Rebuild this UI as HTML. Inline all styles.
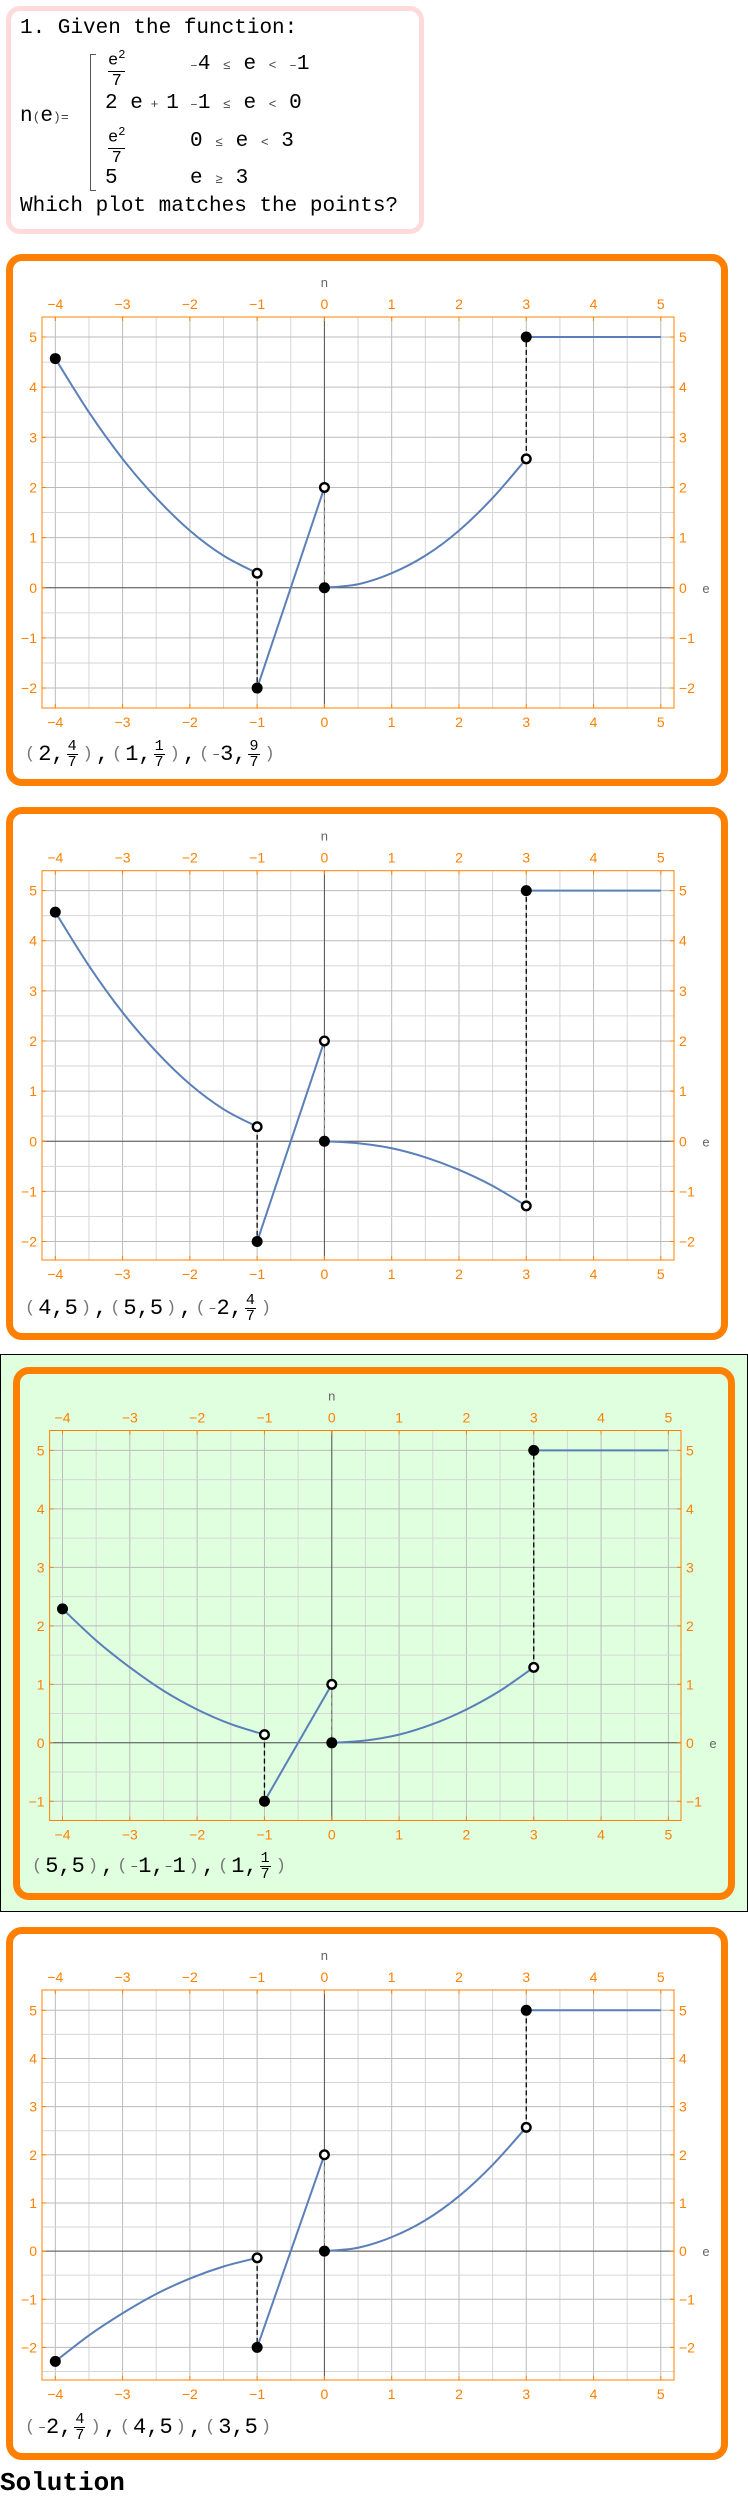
<!DOCTYPE html>
<html><head><meta charset="utf-8"><style>
body{margin:0;width:748px;height:2501px;position:relative;background:#fff;font-family:"Liberation Sans",sans-serif;overflow:hidden}
.abs{position:absolute}
.mono{font-family:"Liberation Mono",monospace;font-size:21px;color:#000;white-space:nowrap}
.obox{position:absolute;box-sizing:border-box;border:7px solid #ff8000;border-radius:16px;background:#fff}
.pts{position:absolute;font-family:"Liberation Mono",monospace;font-size:22px;white-space:nowrap;display:flex;align-items:center}
.pts .p{color:#777;font-size:17px;margin:0 3px}
.fr{display:inline-flex;flex-direction:column;align-items:center;font-size:15px;line-height:15px;margin:0 2px}
.fr .n{border-bottom:1px solid #000;padding:0 1px}
.sfr{position:absolute;font-family:'Liberation Mono',monospace;font-size:17px;text-align:center;line-height:19px}
.sm{font-size:13px;color:#444}
</style></head><body>
<div class="abs" style="left:6px;top:6px;width:418px;height:228px;box-sizing:border-box;border:5px solid #ffdada;border-radius:14px;"></div>
<div class="abs mono" style="left:20px;top:17px">1. Given the function:</div>
<div class="abs mono" style="left:20px;top:105px">n<span class="sm">(</span>e<span class="sm">)</span><span class="sm">=</span></div>
<div class="abs" style="left:90px;top:54px;width:5px;height:135px;border:1px solid #555;border-right:none"></div>
<div class="sfr" style="left:108px;top:46px"><div style="border-bottom:1px solid #000">e<sup style="font-size:12px">2</sup></div><div>7</div></div>
<div class="abs mono" style="left:190px;top:53px"><span class="sm">–</span>4 <span class="sm">≤</span> e <span class="sm">&lt;</span> <span class="sm">–</span>1</div>
<div class="abs mono" style="left:105px;top:92px">2 e<span class="sm"> + </span>1</div>
<div class="abs mono" style="left:190px;top:92px"><span class="sm">–</span>1 <span class="sm">≤</span> e <span class="sm">&lt;</span> 0</div>
<div class="sfr" style="left:108px;top:123px"><div style="border-bottom:1px solid #000">e<sup style="font-size:12px">2</sup></div><div>7</div></div>
<div class="abs mono" style="left:190px;top:130px">0 <span class="sm">≤</span> e <span class="sm">&lt;</span> 3</div>
<div class="abs mono" style="left:105px;top:167px">5</div>
<div class="abs mono" style="left:190px;top:167px">e <span class="sm">≥</span> 3</div>
<div class="abs mono" style="left:20px;top:195px">Which plot matches the points?</div>

<div class="obox" style="left:6px;top:254px;width:722px;height:532px"></div>
<div class="obox" style="left:6px;top:807px;width:722px;height:533px"></div>
<div class="abs" style="left:0;top:1354px;width:748px;height:558px;box-sizing:border-box;border:1px solid #000;background:#dfffdf"></div>
<div class="obox" style="left:13px;top:1367px;width:722px;height:533px;background:#dfffdf"></div>
<div class="obox" style="left:6px;top:1927px;width:722px;height:533px"></div>

<svg id="sv" class="abs" style="left:0;top:0" width="748" height="2501"></svg>

<div class="pts" style="left:22px;top:736px;height:36px"><span class="p">(</span>2,<span class="fr"><span class="n">4</span><span>7</span></span><span class="p">)</span>,<span class="p">(</span>1,<span class="fr"><span class="n">1</span><span>7</span></span><span class="p">)</span>,<span class="p">(</span><span class="sm">–</span>3,<span class="fr"><span class="n">9</span><span>7</span></span><span class="p">)</span></div>
<div class="pts" style="left:22px;top:1290px;height:36px"><span class="p">(</span>4,5<span class="p">)</span>,<span class="p">(</span>5,5<span class="p">)</span>,<span class="p">(</span><span class="sm">–</span>2,<span class="fr"><span class="n">4</span><span>7</span></span><span class="p">)</span></div>
<div class="pts" style="left:29px;top:1848px;height:36px"><span class="p">(</span>5,5<span class="p">)</span>,<span class="p">(</span><span class="sm">–</span>1,<span class="sm">–</span>1<span class="p">)</span>,<span class="p">(</span>1,<span class="fr"><span class="n">1</span><span>7</span></span><span class="p">)</span></div>
<div class="pts" style="left:22px;top:2409px;height:36px"><span class="p">(</span><span class="sm">–</span>2,<span class="fr"><span class="n">4</span><span>7</span></span><span class="p">)</span>,<span class="p">(</span>4,5<span class="p">)</span>,<span class="p">(</span>3,5<span class="p">)</span></div>
<div class="abs" style="left:0;top:2468px;font-family:'Liberation Mono',monospace;font-weight:bold;font-size:26px">Solution</div>

<script>
const xTicks=[-4,-3,-2,-1,0,1,2,3,4,5];
const segLeftX=[-4,-3.5,-3,-2.5,-2,-1.5,-1];
const segRightX=[0,0.5,1,1.5,2,2.5,3];
const c1Left=[4.57,3.5,2.57,1.79,1.14,0.64,0.29];
const c1Line=[-2,2];
const c1Right=[0,0.07,0.29,0.64,1.14,1.79,2.57];
const c2Left=[4.57,3.5,2.57,1.79,1.14,0.64,0.29];
const c2Line=[-2,2];
const c2Right=[0,-0.04,-0.14,-0.32,-0.57,-0.89,-1.29];
const c3Left=[2.29,1.75,1.29,0.89,0.57,0.32,0.14];
const c3Line=[-1,1];
const c3Right=[0,0.04,0.14,0.32,0.57,0.89,1.29];
const c4Left=[-2.29,-1.75,-1.29,-0.89,-0.57,-0.32,-0.14];
const c4Line=[-2,2];
const c4Right=[0,0.07,0.29,0.64,1.14,1.79,2.57];
const constVal=[5,5,5,5];
const yTicks1=[-2,-1,0,1,2,3,4,5];
const yTicks3=[-1,0,1,2,3,4,5];

const NS="http://www.w3.org/2000/svg";
const sv=document.getElementById('sv');
function mk(tag,attrs,parent){const e=document.createElementNS(NS,tag);for(const k in attrs)e.setAttribute(k,attrs[k]);(parent||sv).appendChild(e);return e;}
function path(pts){let d='M'+pts[0][0]+' '+pts[0][1];for(let i=0;i<pts.length-1;i++){const p0=pts[Math.max(0,i-1)],p1=pts[i],p2=pts[i+1],p3=pts[Math.min(pts.length-1,i+2)];const c1=[p1[0]+(p2[0]-p0[0])/6,p1[1]+(p2[1]-p0[1])/6],c2=[p2[0]-(p3[0]-p1[0])/6,p2[1]-(p3[1]-p1[1])/6];d+=' C'+c1[0]+' '+c1[1]+' '+c2[0]+' '+c2[1]+' '+p2[0]+' '+p2[1];}return d;}

function chart(idx,L,left,line,right,cv,yTicks){
  const g=mk('g',{});
  
  
  const X=v=>L.x0+(v+4)*L.ux, Y=v=>L.y5+(5-v)*L.uy;
  const vmin=(L.fx0-L.x0)/L.ux-4, vmax=(L.fx1-L.x0)/L.ux-4;
  const ytop=5+(L.y5-L.fy0)/L.uy, ybot=5-(L.fy1-L.y5)/L.uy;
  for(let v=Math.ceil(vmin*2)/2;v<=vmax;v+=0.5){const int=Number.isInteger(v);mk('line',{x1:X(v),x2:X(v),y1:L.fy0,y2:L.fy1,stroke:int?'#bbb':'#d6d6d6','stroke-width':1},g);}
  for(let v=Math.ceil(ybot*2)/2;v<=ytop;v+=0.5){const int=Number.isInteger(v);mk('line',{x1:L.fx0,x2:L.fx1,y1:Y(v),y2:Y(v),stroke:int?'#bbb':'#d6d6d6','stroke-width':1},g);}
  mk('line',{x1:X(0),x2:X(0),y1:L.fy0,y2:L.fy1,stroke:'#555','stroke-width':1},g);
  mk('line',{x1:L.fx0,x2:L.fx1,y1:Y(0),y2:Y(0),stroke:'#555','stroke-width':1},g);
  mk('rect',{x:L.fx0,y:L.fy0,width:L.fx1-L.fx0,height:L.fy1-L.fy0,fill:'none',stroke:'#ff8000','stroke-width':1},g);
  xTicks.forEach(v=>{
    mk('line',{x1:X(v),x2:X(v),y1:L.fy0,y2:L.fy0+4,stroke:'#ff8000'},g);
    mk('line',{x1:X(v),x2:X(v),y1:L.fy1,y2:L.fy1-4,stroke:'#ff8000'},g);
    const lab=v<0?'−'+(-v):''+v;
    const t1=mk('text',{x:X(v),y:L.fy0-8,'text-anchor':'middle','font-size':14,fill:'#ff8000'},g);t1.textContent=lab;
    
    const t2=mk('text',{x:X(v),y:L.fy1+19,'text-anchor':'middle','font-size':14,fill:'#ff8000'},g);t2.textContent=lab;
    
  });
  yTicks.forEach(v=>{
    mk('line',{x1:L.fx0,x2:L.fx0+4,y1:Y(v),y2:Y(v),stroke:'#ff8000'},g);
    mk('line',{x1:L.fx1,x2:L.fx1-4,y1:Y(v),y2:Y(v),stroke:'#ff8000'},g);
    const lab=v<0?'−'+(-v):''+v;
    const t1=mk('text',{x:L.fx0-5,y:Y(v)+5,'text-anchor':'end','font-size':14,fill:'#ff8000'},g);t1.textContent=lab;
    
    const t2=mk('text',{x:L.fx1+5,y:Y(v)+5,'text-anchor':'start','font-size':14,fill:'#ff8000'},g);t2.textContent=lab;
    
  });
  const tn=mk('text',{x:X(0),y:L.fy0-30,'text-anchor':'middle','font-size':13,fill:'#666'},g);tn.textContent='n';
  
  const te=mk('text',{x:L.fx1+32,y:Y(0)+5,'text-anchor':'middle','font-size':13,fill:'#666'},g);te.textContent='e';
  
  const blue='#5a7fb9';
  mk('line',{x1:X(-1),x2:X(-1),y1:Y(left[left.length-1]),y2:Y(line[0]),stroke:'#000','stroke-width':1.3,'stroke-dasharray':'5,3'},g);
  mk('line',{x1:X(0),x2:X(0),y1:Y(right[0]),y2:Y(line[1]),stroke:'#999','stroke-width':1.3,'stroke-dasharray':'5,3'},g);
  mk('line',{x1:X(3),x2:X(3),y1:Y(right[right.length-1]),y2:Y(cv),stroke:'#000','stroke-width':1.3,'stroke-dasharray':'5,3'},g);
  const p1=mk('path',{d:path(segLeftX.map((x,i)=>[X(x),Y(left[i])])),fill:'none',stroke:blue,'stroke-width':2},g);
  
  const p2=mk('line',{x1:X(-1),y1:Y(line[0]),x2:X(0),y2:Y(line[1]),stroke:blue,'stroke-width':2},g);
  
  const p3=mk('path',{d:path(segRightX.map((x,i)=>[X(x),Y(right[i])])),fill:'none',stroke:blue,'stroke-width':2},g);
  
  const p4=mk('line',{x1:X(3),y1:Y(cv),x2:X(5),y2:Y(cv),stroke:blue,'stroke-width':2},g);
  
  const filled=[[-4,left[0]],[-1,line[0]],[0,right[0]],[3,cv]];
  const open=[[-1,left[left.length-1]],[0,line[1]],[3,right[right.length-1]]];
  filled.forEach(p=>{const c=mk('circle',{cx:X(p[0]),cy:Y(p[1]),r:5.5,fill:'#000'},g);});
  open.forEach(p=>{const c=mk('circle',{cx:X(p[0]),cy:Y(p[1]),r:4.3,fill:'#fff',stroke:'#000','stroke-width':2.4},g);});
}
chart(1,{x0:55.3,ux:67.28,fx0:42,fx1:674,y5:337,uy:50.15,fy0:317,fy1:708},c1Left,c1Line,c1Right,constVal[0],yTicks1);
chart(2,{x0:55.3,ux:67.28,fx0:42,fx1:674,y5:890.6,uy:50.13,fy0:870.7,fy1:1260},c2Left,c2Line,c2Right,constVal[1],yTicks1);
chart(3,{x0:62.5,ux:67.32,fx0:49.6,fx1:681,y5:1450.4,uy:58.48,fy0:1430.5,fy1:1820.5},c3Left,c3Line,c3Right,constVal[2],yTicks3);
chart(4,{x0:55.3,ux:67.28,fx0:42,fx1:674,y5:2010.3,uy:48.16,fy0:1990,fy1:2380},c4Left,c4Line,c4Right,constVal[3],yTicks1);
</script>
</body></html>
